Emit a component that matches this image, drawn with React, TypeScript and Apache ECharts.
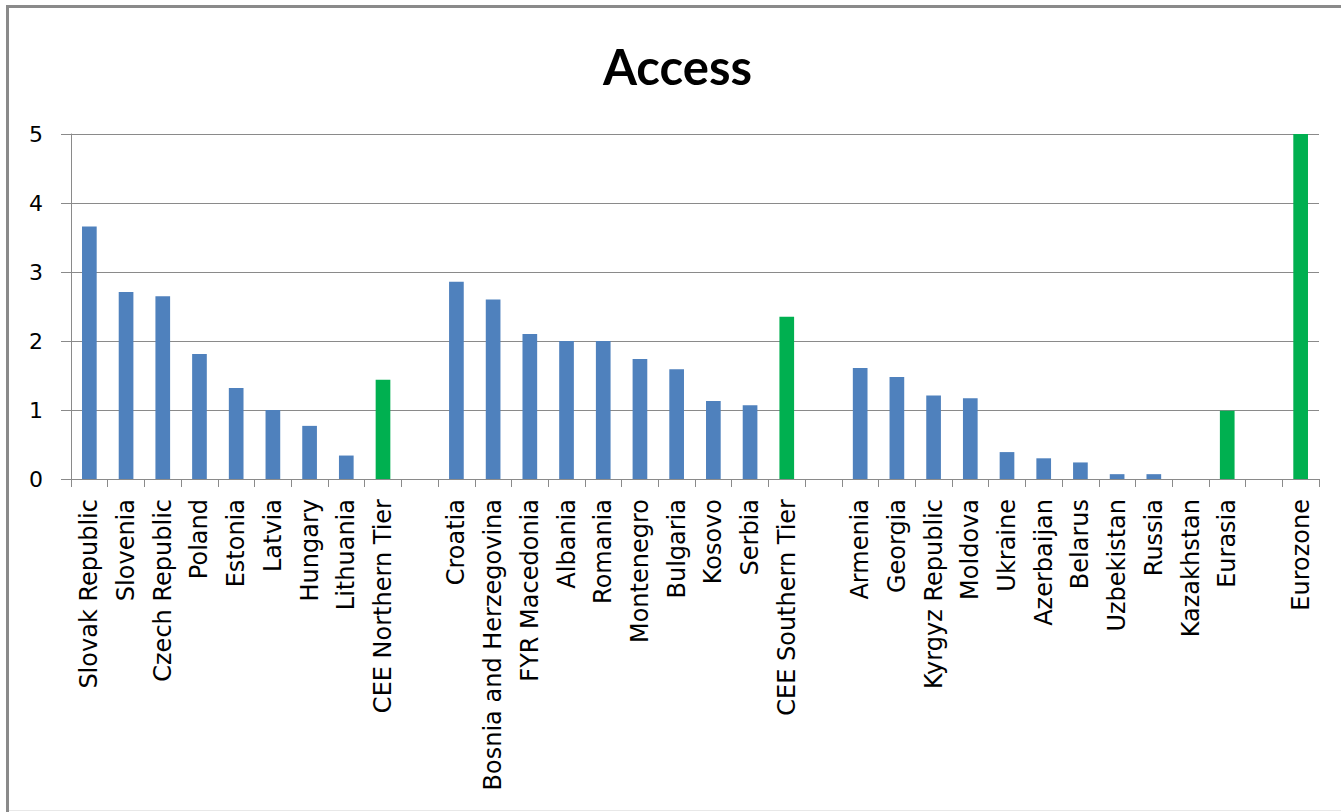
import React, { useEffect, useRef } from "react";
import * as echarts from "echarts";

// Countries and regional aggregates, in display order; "" marks a spacer slot between groups.
const categories: string[] = [
  "Slovak Republic", "Slovenia", "Czech Republic", "Poland", "Estonia", "Latvia", "Hungary", "Lithuania", "CEE Northern Tier",
  "",
  "Croatia", "Bosnia and Herzegovina", "FYR Macedonia", "Albania", "Romania", "Montenegro", "Bulgaria", "Kosovo", "Serbia", "CEE Southern Tier",
  "",
  "Armenia", "Georgia", "Kyrgyz Republic", "Moldova", "Ukraine", "Azerbaijan", "Belarus", "Uzbekistan", "Russia", "Kazakhstan", "Eurasia",
  "",
  "Eurozone",
];

const accessScores: (number | null)[] = [
  3.66, 2.71, 2.65, 1.81, 1.32, 1.0, 0.77, 0.34, 1.44,
  null,
  2.86, 2.6, 2.1, 2.0, 2.0, 1.74, 1.59, 1.13, 1.07, 2.35,
  null,
  1.61, 1.48, 1.21, 1.17, 0.39, 0.3, 0.24, 0.07, 0.07, 0, 0.99,
  null,
  5.0,
];

// Regional averages and the benchmark are drawn in green.
const aggregates: string[] = ["CEE Northern Tier", "CEE Southern Tier", "Eurasia", "Eurozone"];

const yTicks = { min: 0, max: 5, interval: 1 };

const COUNTRY_COLOR = "#4F81BD";
const AGGREGATE_COLOR = "#00B050";
const AXIS_GRAY = "#8a8a8a";
const LABEL_FONT = "'DejaVu Sans', sans-serif";

export default function App() {
  const ref = useRef<HTMLDivElement>(null);

  useEffect(() => {
    if (!ref.current) return;
    const chart = echarts.init(ref.current, null, { renderer: "svg" });

    const barData = accessScores.map((v, i) => ({
      value: v,
      itemStyle: {
        color: aggregates.includes(categories[i]) ? AGGREGATE_COLOR : COUNTRY_COLOR,
      },
    }));

    chart.setOption({
      animation: false,
      backgroundColor: "#ffffff",
      title: {
        text: "Access",
        left: 603,
        top: 41,
        padding: 0,
        textStyle: {
          fontFamily: "Lato, sans-serif",
          fontWeight: "bold",
          fontSize: 49,
          color: "#000000",
        },
      },
      grid: {
        left: 71,
        right: 22,
        top: 134,
        bottom: 333,
        containLabel: false,
      },
      xAxis: {
        type: "category",
        data: categories,
        boundaryGap: true,
        axisLine: { show: true, lineStyle: { color: AXIS_GRAY, width: 1 } },
        axisTick: {
          show: true,
          interval: 0,
          length: 8,
          lineStyle: { color: AXIS_GRAY, width: 1 },
        },
        axisLabel: {
          interval: 0,
          rotate: 90,
          margin: 20,
          color: "#000000",
          fontFamily: LABEL_FONT,
          fontSize: 24,
        },
        splitLine: { show: false },
      },
      yAxis: {
        type: "value",
        min: yTicks.min,
        max: yTicks.max,
        interval: yTicks.interval,
        axisLine: { show: true, lineStyle: { color: AXIS_GRAY, width: 1 } },
        axisTick: { show: true, length: 10, lineStyle: { color: AXIS_GRAY, width: 1 } },
        axisLabel: {
          margin: 28,
          color: "#000000",
          fontFamily: LABEL_FONT,
          fontSize: 22,
        },
        splitLine: { show: true, lineStyle: { color: AXIS_GRAY, width: 1 } },
      },
      series: [
        {
          type: "bar",
          data: barData,
          barWidth: "40%",
        },
      ],
      graphic: [
        {
          type: "line",
          silent: true,
          shape: { x1: 7.5, y1: 5, x2: 7.5, y2: 812 },
          style: { stroke: "#8a8a8a", lineWidth: 3 },
        },
        {
          type: "line",
          silent: true,
          shape: { x1: 6, y1: 6.5, x2: 1341, y2: 6.5 },
          style: { stroke: "#8a8a8a", lineWidth: 3 },
        },
        {
          type: "line",
          silent: true,
          shape: { x1: 9, y1: 810.5, x2: 1341, y2: 810.5 },
          style: { stroke: "#e8e8e8", lineWidth: 1 },
        },
      ],
    });

    return () => chart.dispose();
  }, []);

  return (
    <div
      ref={ref}
      style={{ position: "fixed", left: 0, top: 0, width: 1341, height: 812, background: "#ffffff" }}
    />
  );
}
